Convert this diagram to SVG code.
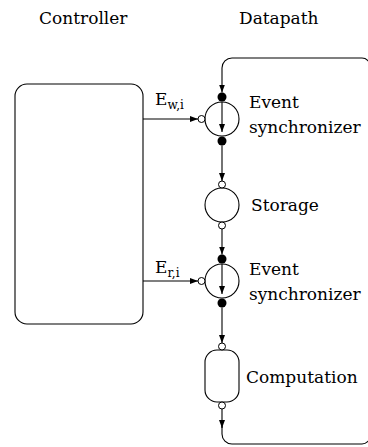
<svg xmlns="http://www.w3.org/2000/svg" width="368" height="447" viewBox="0 0 368 447">
<style>
.ln{fill:none;stroke:#000;stroke-width:1.1}
.nd{fill:#fff;stroke:#000;stroke-width:1.1}
.dot{fill:#000;stroke:none}
.port{fill:#fff;stroke:#000;stroke-width:1}
.t{font-family:'DejaVu Serif',serif;font-size:17px;fill:#000}
.s{font-size:12px}
</style>
<defs>
<marker id="ah" markerWidth="8" markerHeight="6" refX="8" refY="3" orient="auto" markerUnits="userSpaceOnUse">
<path d="M0,0 L8,3 L0,6 z" fill="#000"/>
</marker>
</defs>
<rect width="368" height="447" fill="#fff"/>
<text class="t" x="39" y="24">Controller</text>
<text class="t" x="239" y="24">Datapath</text>
<g id="connectors">
<path class="ln" d="M143,119 H198" marker-end="url(#ah)"/>
<path class="ln" d="M143,281 H198" marker-end="url(#ah)"/>
<path class="ln" d="M222,145.5 V181" marker-end="url(#ah)"/>
<path class="ln" d="M222,229 V254.5" marker-end="url(#ah)"/>
<path class="ln" d="M222,307.5 V343" marker-end="url(#ah)"/>
<path class="ln" d="M222,409 V428" marker-end="url(#ah)"/>
<path class="ln" d="M222,426 V434 A10,10 0 0 0 232,444 H362 A8,8 0 0 0 370,436 V66 A8,8 0 0 0 362,58 H232 A10,10 0 0 0 222,68 V92.5" marker-end="url(#ah)"/>
<text class="t" x="155" y="105">E<tspan class="s" dy="4">w,i</tspan></text>
<text class="t" x="155" y="273">E<tspan class="s" dy="4">r,i</tspan></text>
</g>
<g id="controller">
<rect class="nd" x="15" y="84" width="128" height="240" rx="12"/>
</g>
<g id="sync1">
<circle class="nd" cx="222" cy="119" r="17"/>
<path class="ln" d="M222,102 V132" marker-end="url(#ah)"/>
<circle class="dot" cx="222" cy="97" r="4.5"/>
<circle class="dot" cx="222" cy="141" r="4.5"/>
<circle class="port" cx="201.5" cy="119" r="3.5"/>
<text class="t" x="249" y="108">Event</text>
<text class="t" x="249" y="133">synchronizer</text>
</g>
<g id="storage">
<circle class="nd" cx="222" cy="205" r="17"/>
<circle class="port" cx="222" cy="184.5" r="3.5"/>
<circle class="port" cx="222" cy="225.5" r="3.5"/>
<text class="t" x="251" y="211">Storage</text>
</g>
<g id="sync2">
<circle class="nd" cx="222" cy="281" r="17"/>
<path class="ln" d="M222,264 V294" marker-end="url(#ah)"/>
<circle class="dot" cx="222" cy="259" r="4.5"/>
<circle class="dot" cx="222" cy="303" r="4.5"/>
<circle class="port" cx="201.5" cy="281" r="3.5"/>
<text class="t" x="249" y="275">Event</text>
<text class="t" x="249" y="300">synchronizer</text>
</g>
<g id="computation">
<rect class="nd" x="205" y="350" width="34" height="52" rx="12"/>
<circle class="port" cx="222" cy="346.5" r="3.5"/>
<circle class="port" cx="222" cy="405.5" r="3.5"/>
<text class="t" x="246" y="383">Computation</text>
</g>
</svg>
